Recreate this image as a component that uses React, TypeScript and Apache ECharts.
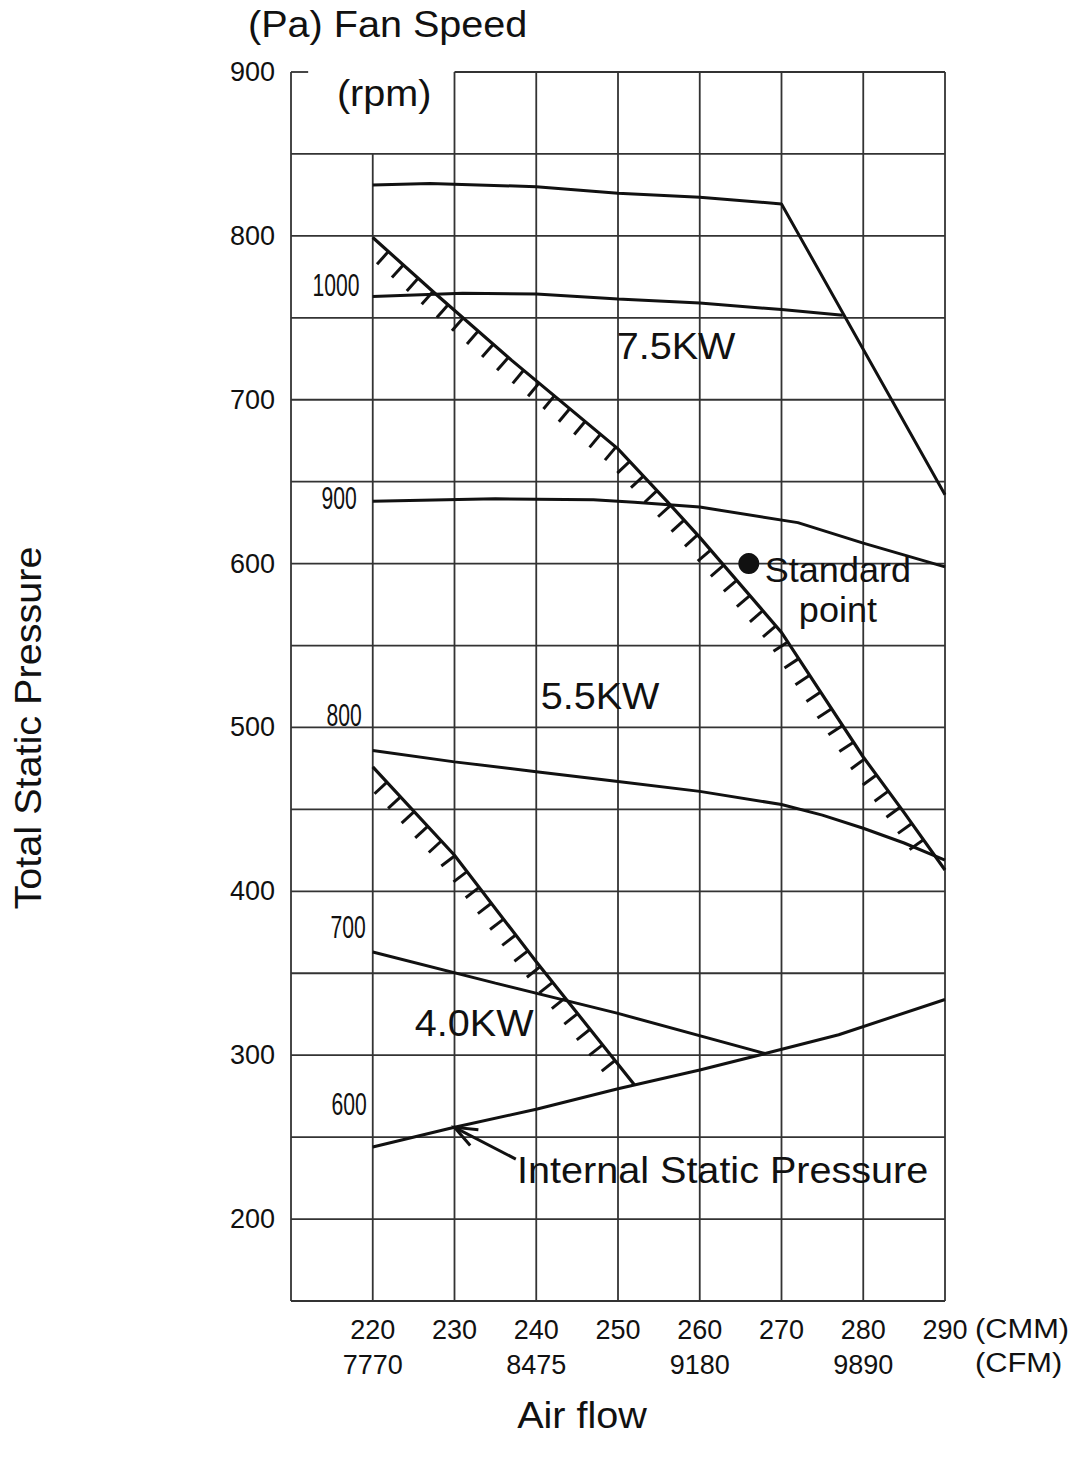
import React, { useEffect, useRef } from "react";
import * as echarts from "echarts";

// ---------- data ----------
const cmmTicks = [220, 230, 240, 250, 260, 270, 280, 290];
const cfmTicks = ["7770", "", "8475", "", "9180", "", "9890", ""];
const pressureTicks = [200, 300, 400, 500, 600, 700, 800, 900];
const pressureGrid = [150, 200, 250, 300, 350, 400, 450, 500, 550, 600, 650, 700, 750, 800, 850];
const airflowGrid = [210, 220, 230, 240, 250, 260, 270, 280, 290];

const curveTop = [[220, 831], [227, 832], [240, 830], [250, 826], [260, 823.5], [270, 819.5], [290, 642]];
const curve1000 = [[220, 763], [231, 765], [240, 764.5], [250, 761.5], [260, 759], [270, 755], [277.5, 751.5]];
const curve900 = [[220, 638], [235, 639.5], [247, 639], [252, 637.5], [260, 634.5], [272, 625], [280, 612.5], [290, 598]];
const curve800 = [[220, 486], [230, 479], [240, 473], [250, 467], [260, 461], [270, 453], [275, 446.5], [280, 438.5], [285, 429.5], [290, 419]];
const curve700 = [[220, 363], [235, 344], [250, 325.5], [268, 301]];
const curveInternal = [[220, 244], [230, 256], [240, 267], [250, 279.5], [260, 291], [268, 301], [277, 312.5], [290, 334]];
const limit75kw = [[220, 799], [227.6, 765], [237, 724], [250, 670], [256, 638], [260, 616], [270, 558], [280, 482], [285, 448], [290, 413]];
const limit40kw = [[220, 476], [230, 422], [240, 357], [252, 282]];
const standardPoint = [[266, 600]];

const rpmLabels = ["1000", "900", "800", "700", "600"];
const powerLabels = ["7.5KW", "5.5KW", "4.0KW"];

// ---------- layout / style ----------
const INK = "#111111";
const GRIDC = "#333333";
const SANS = "'Liberation Sans', Arial, Helvetica, sans-serif";
const WIDE = 1.07;

// annotations anchored in data coordinates
const annotations = [
  { text: "(rpm)", at: [221.4, 887.2], size: 37, sx: WIDE },
  { text: rpmLabels[0], at: [215.5, 770], size: 32, sx: 0.66 },
  { text: rpmLabels[1], at: [215.9, 640], size: 32, sx: 0.66 },
  { text: rpmLabels[2], at: [216.5, 507.6], size: 32, sx: 0.66 },
  { text: rpmLabels[3], at: [217.0, 378.3], size: 32, sx: 0.66 },
  { text: rpmLabels[4], at: [217.1, 270.3], size: 32, sx: 0.66 },
  { text: powerLabels[0], at: [257.1, 732.8], size: 37, sx: WIDE },
  { text: powerLabels[1], at: [247.8, 519.2], size: 37, sx: WIDE },
  { text: powerLabels[2], at: [232.4, 319.7], size: 37, sx: WIDE },
  { text: "Standard\npoint", at: [276.9, 584], size: 35, sx: 1.03, lh: 40 },
  { text: "Internal Static Pressure", at: [262.8, 230], size: 37, sx: WIDE },
];
const arrowSeg = [[237.5, 236.6, 230, 256]];

function buildGridSegments() {
  const segs: number[][] = [];
  const xMin = airflowGrid[0];
  const xMax = airflowGrid[airflowGrid.length - 1];
  const yMin = pressureGrid[0];
  const yTop = pressureTicks[pressureTicks.length - 1];
  pressureGrid.forEach((y) => segs.push([xMin, y, xMax, y]));
  segs.push([xMin, yTop, xMin + 2.1, yTop]);
  segs.push([airflowGrid[2], yTop, xMax, yTop]);
  airflowGrid.forEach((x, i) => {
    segs.push([x, yMin, x, i === 1 ? pressureGrid[pressureGrid.length - 1] : yTop]);
  });
  return segs;
}

const hatchedLines = [limit75kw, limit40kw];

export default function App() {
  const ref = useRef<HTMLDivElement>(null);
  useEffect(() => {
    document.body.style.margin = "0";
    if (!ref.current) return;
    const chart = echarts.init(ref.current, undefined, { renderer: "svg" });

    const lineSeries = (name: string, data: number[][]) => ({
      name,
      type: "line",
      data,
      showSymbol: false,
      symbol: "none",
      lineStyle: { color: INK, width: 3 },
      z: 5,
      silent: true,
    });

    const titleText = (text: string, x: number, y: number, rotation = 0, align = "center", size = 37, sx = WIDE) => ({
      type: "text",
      x,
      y,
      rotation,
      scaleX: sx,
      style: { text, fontSize: size, fontFamily: SANS, fill: INK, align, verticalAlign: "middle" },
    });

    const option: any = {
      animation: false,
      backgroundColor: "#ffffff",
      grid: { left: 291, right: 129, top: 72, bottom: 160 },
      xAxis: {
        type: "value",
        min: 210,
        max: 290,
        interval: 10,
        axisLine: { show: false },
        axisTick: { show: false },
        splitLine: { show: false },
        axisLabel: {
          interval: 0,
          margin: 11,
          fontFamily: SANS,
          fontSize: 27,
          lineHeight: 35,
          color: INK,
          formatter: (v: number) => {
            const i = cmmTicks.indexOf(v);
            if (i < 0) return "";
            return cfmTicks[i] ? `${v}\n${cfmTicks[i]}` : `${v}`;
          },
        },
      },
      yAxis: {
        type: "value",
        min: 150,
        max: 900,
        interval: 50,
        axisLine: { show: false },
        axisTick: { show: false },
        splitLine: { show: false },
        axisLabel: {
          margin: 16,
          fontFamily: SANS,
          fontSize: 27,
          color: INK,
          formatter: (v: number) => (pressureTicks.indexOf(v) >= 0 ? `${v}` : ""),
        },
      },
      graphic: [
        titleText("(Pa) Fan Speed", 248, 24, 0, "left"),
        titleText("Total Static Pressure", 28, 728, Math.PI / 2),
        titleText("Air flow", 582, 1415),
        titleText("(CMM)", 975, 1328, 0, "left", 28, 1.1),
        titleText("(CFM)", 975, 1362, 0, "left", 28, 1.1),
      ],
      series: [
        {
          name: "grid",
          type: "custom",
          silent: true,
          z: 1,
          encode: { x: [0, 2], y: [1, 3] },
          data: buildGridSegments(),
          renderItem: (params: any, api: any) => {
            const p1 = api.coord([api.value(0), api.value(1)]);
            const p2 = api.coord([api.value(2), api.value(3)]);
            return {
              type: "line",
              shape: { x1: p1[0], y1: p1[1], x2: p2[0], y2: p2[1] },
              style: { stroke: GRIDC, lineWidth: 1.8 },
            };
          },
        },
        lineSeries("top", curveTop),
        lineSeries("1000rpm", curve1000),
        lineSeries("900rpm", curve900),
        lineSeries("800rpm", curve800),
        lineSeries("700rpm", curve700),
        lineSeries("internal", curveInternal),
        {
          name: "limits",
          type: "custom",
          silent: true,
          z: 6,
          encode: { x: 0, y: 1 },
          data: hatchedLines.map((l, i) => [l[0][0], l[0][1], i]),
          renderItem: (params: any, api: any) => {
            const idx = api.value(2);
            const pts = hatchedLines[idx].map((p) => api.coord(p));
            const children: any[] = [
              { type: "polyline", shape: { points: pts }, style: { stroke: INK, lineWidth: 3.2, fill: null } },
            ];
            let total = 0;
            for (let i = 0; i < pts.length - 1; i++) total += Math.hypot(pts[i + 1][0] - pts[i][0], pts[i + 1][1] - pts[i][1]);
            const spacing = 20;
            const tick = 17;
            let next = 21;
            let acc = 0;
            for (let i = 0; i < pts.length - 1; i++) {
              const [x1, y1] = pts[i];
              const [x2, y2] = pts[i + 1];
              const len = Math.hypot(x2 - x1, y2 - y1);
              const ux = (x2 - x1) / len;
              const uy = (y2 - y1) / len;
              while (next <= acc + len && next <= total - 22) {
                const t = next - acc;
                const px = x1 + ux * t;
                const py = y1 + uy * t;
                const nx = -uy;
                const ny = ux;
                children.push({
                  type: "line",
                  shape: { x1: px, y1: py, x2: px + nx * tick, y2: py + ny * tick },
                  style: { stroke: INK, lineWidth: 3 },
                });
                next += spacing;
              }
              acc += len;
            }
            return { type: "group", children };
          },
        },
        {
          name: "standard point",
          type: "scatter",
          data: standardPoint,
          symbol: "circle",
          symbolSize: 21,
          itemStyle: { color: INK, opacity: 1 },
          z: 8,
          silent: true,
        },
        {
          name: "arrow",
          type: "custom",
          silent: true,
          z: 7,
          encode: { x: [0, 2], y: [1, 3] },
          data: arrowSeg,
          renderItem: (params: any, api: any) => {
            const tail = api.coord([api.value(0), api.value(1)]);
            const tip = api.coord([api.value(2), api.value(3)]);
            const ang = Math.atan2(tail[1] - tip[1], tail[0] - tip[0]);
            const hl = 24;
            const spread = 0.38;
            const a1 = [tip[0] + hl * Math.cos(ang + spread), tip[1] + hl * Math.sin(ang + spread)];
            const a2 = [tip[0] + hl * Math.cos(ang - spread), tip[1] + hl * Math.sin(ang - spread)];
            return {
              type: "group",
              children: [
                { type: "line", shape: { x1: tail[0], y1: tail[1], x2: tip[0], y2: tip[1] }, style: { stroke: INK, lineWidth: 3 } },
                { type: "polyline", shape: { points: [a1, tip, a2] }, style: { stroke: INK, lineWidth: 3, fill: null } },
              ],
            };
          },
        },
        {
          name: "annotations",
          type: "custom",
          silent: true,
          z: 9,
          encode: { x: 0, y: 1 },
          data: annotations.map((a, i) => [a.at[0], a.at[1], i]),
          renderItem: (params: any, api: any) => {
            const a: any = annotations[api.value(2)];
            const p = api.coord([api.value(0), api.value(1)]);
            return {
              type: "text",
              x: p[0],
              y: p[1],
              scaleX: a.sx,
              style: {
                text: a.text,
                fontSize: a.size,
                fontFamily: SANS,
                fill: INK,
                align: "center",
                verticalAlign: "middle",
                lineHeight: a.lh || a.size * 1.2,
              },
            };
          },
        },
      ],
    };
    chart.setOption(option);
    return () => chart.dispose();
  }, []);
  return <div ref={ref} style={{ width: 1074, height: 1461 }} />;
}
